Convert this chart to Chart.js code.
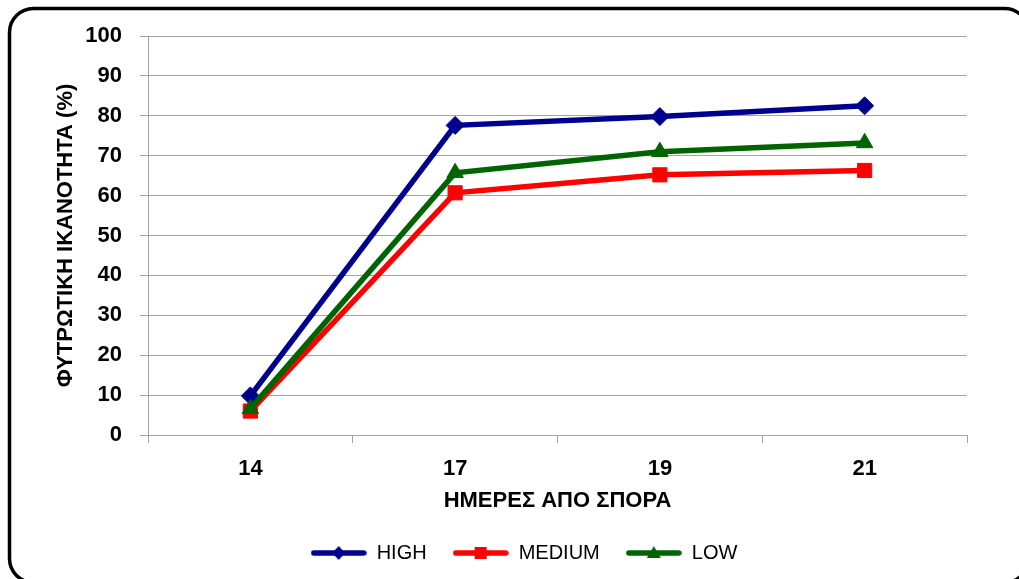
<!DOCTYPE html>
<html>
<head>
<meta charset="utf-8">
<script src="https://cdn.jsdelivr.net/npm/chart.js@4/dist/chart.umd.min.js"></script>
<style>
  html, body { margin: 0; padding: 0; background: #ffffff; }
  #wrap { width: 1019px; height: 579px; position: relative; }
  canvas { display: block; }
</style>
</head>
<body>
<div id="wrap"><canvas id="chart" width="1019" height="579"></canvas></div>
<script>
// Days after sowing
const days = ['14', '17', '19', '21'];

// Germination capacity (%) per seed vigour class
const highValues   = [9.8, 77.6, 79.8, 82.5];
const mediumValues = [6.0, 60.7, 65.2, 66.3];
const lowValues    = [6.6, 65.7, 71.0, 73.2];

const seriesNames = ['HIGH', 'MEDIUM', 'LOW'];
const yTitle = 'ΦΥΤΡΩΤΙΚΗ ΙΚΑΝΟΤΗΤΑ (%)';
const xTitle = 'ΗΜΕΡΕΣ ΑΠΟ ΣΠΟΡΑ';

const BLUE = '#00008f';
const RED = '#ff0000';
const GREEN = '#006400';
const GRID = '#a3a3a3';
const FONT = '"Liberation Sans", Arial, sans-serif';

Chart.defaults.font.family = FONT;
Chart.defaults.color = '#000000';

// Small line-with-marker swatches for the legend
function swatch(color, shape) {
  const c = document.createElement('canvas');
  c.width = 56; c.height = 20;
  const g = c.getContext('2d');
  g.strokeStyle = color;
  g.fillStyle = color;
  g.lineWidth = 5.5;
  g.lineCap = 'round';
  g.beginPath();
  g.moveTo(3, 10); g.lineTo(53, 10);
  g.stroke();
  const cx = 28, cy = 10;
  g.beginPath();
  if (shape === 'diamond') {
    g.moveTo(cx, cy - 7); g.lineTo(cx + 6.5, cy); g.lineTo(cx, cy + 7); g.lineTo(cx - 6.5, cy);
  } else if (shape === 'square') {
    g.rect(cx - 6, cy - 6, 12, 12);
  } else {
    g.moveTo(cx, cy - 7); g.lineTo(cx + 7, cy + 5); g.lineTo(cx - 7, cy + 5);
  }
  g.closePath();
  g.fill();
  return c;
}
const legendIcons = [swatch(BLUE, 'diamond'), swatch(RED, 'square'), swatch(GREEN, 'triangle')];

// Rounded black frame around the whole chart
const framePlugin = {
  id: 'frame',
  beforeDraw(chart) {
    const ctx = chart.ctx;
    ctx.save();
    ctx.fillStyle = '#ffffff';
    ctx.fillRect(0, 0, chart.width, chart.height);
    ctx.restore();
  },
  afterDraw(chart) {
    const ctx = chart.ctx;
    ctx.save();
    ctx.strokeStyle = '#000000';
    ctx.lineWidth = 3.5;
    ctx.beginPath();
    ctx.roundRect(9.5, 8.5, 1019, 574, 24);
    ctx.stroke();
    ctx.restore();
  }
};

const commonLine = {
  borderWidth: 5.5,
  tension: 0,
  fill: false,
  pointBorderWidth: 1
};

new Chart(document.getElementById('chart'), {
  type: 'line',
  data: {
    labels: days,
    datasets: [
      Object.assign({}, commonLine, {
        label: seriesNames[0], data: highValues,
        borderColor: BLUE, backgroundColor: BLUE,
        pointStyle: 'rectRot', pointRadius: 9, order: 2
      }),
      Object.assign({}, commonLine, {
        label: seriesNames[1], data: mediumValues,
        borderColor: RED, backgroundColor: RED,
        pointStyle: 'rect', pointRadius: 10, order: 1
      }),
      Object.assign({}, commonLine, {
        label: seriesNames[2], data: lowValues,
        borderColor: GREEN, backgroundColor: GREEN,
        pointStyle: 'triangle', pointRadius: 9.5, order: 0
      })
    ]
  },
  options: {
    responsive: false,
    animation: false,
    devicePixelRatio: 1,
    layout: { padding: { top: 36, left: 81, right: 52, bottom: 6 } },
    plugins: {
      tooltip: { enabled: false },
      legend: {
        position: 'bottom',
        labels: {
          usePointStyle: true,
          pointStyleWidth: 56,
          padding: 26,
          color: '#000000',
          font: { size: 20, family: FONT },
          sort: (a, b) => a.datasetIndex - b.datasetIndex,
          generateLabels: (chart) =>
            Chart.defaults.plugins.legend.labels.generateLabels(chart).map((item) =>
              Object.assign(item, { pointStyle: legendIcons[item.datasetIndex] }))
        }
      }
    },
    scales: {
      x: {
        type: 'category',
        offset: true,
        grid: {
          offset: true,
          drawOnChartArea: false,
          drawTicks: true,
          tickLength: 8,
          color: GRID,
          lineWidth: 1
        },
        border: { display: true, color: GRID, width: 1 },
        ticks: { font: { size: 22, weight: 'bold' }, color: '#000000', padding: 13, maxRotation: 0 },
        title: {
          display: true,
          text: xTitle,
          color: '#000000',
          font: { size: 22, weight: 'bold' },
          padding: { top: 0, bottom: 3 }
        },
        afterFit: (scale) => { scale.height = 82; }
      },
      y: {
        min: 0,
        max: 100,
        grid: {
          color: GRID,
          lineWidth: 1,
          drawTicks: true,
          tickLength: 8
        },
        border: { display: true, color: GRID, width: 1 },
        ticks: { stepSize: 10, font: { size: 22, weight: 'bold' }, color: '#000000', padding: 18 },
        title: {
          display: true,
          text: yTitle,
          color: '#000000',
          font: { size: 22, weight: 'bold' },
          padding: { top: -28, bottom: 0 }
        },
        afterFit: (scale) => { scale.width = 67; }
      }
    }
  },
  plugins: [framePlugin]
});
</script>
</body>
</html>
